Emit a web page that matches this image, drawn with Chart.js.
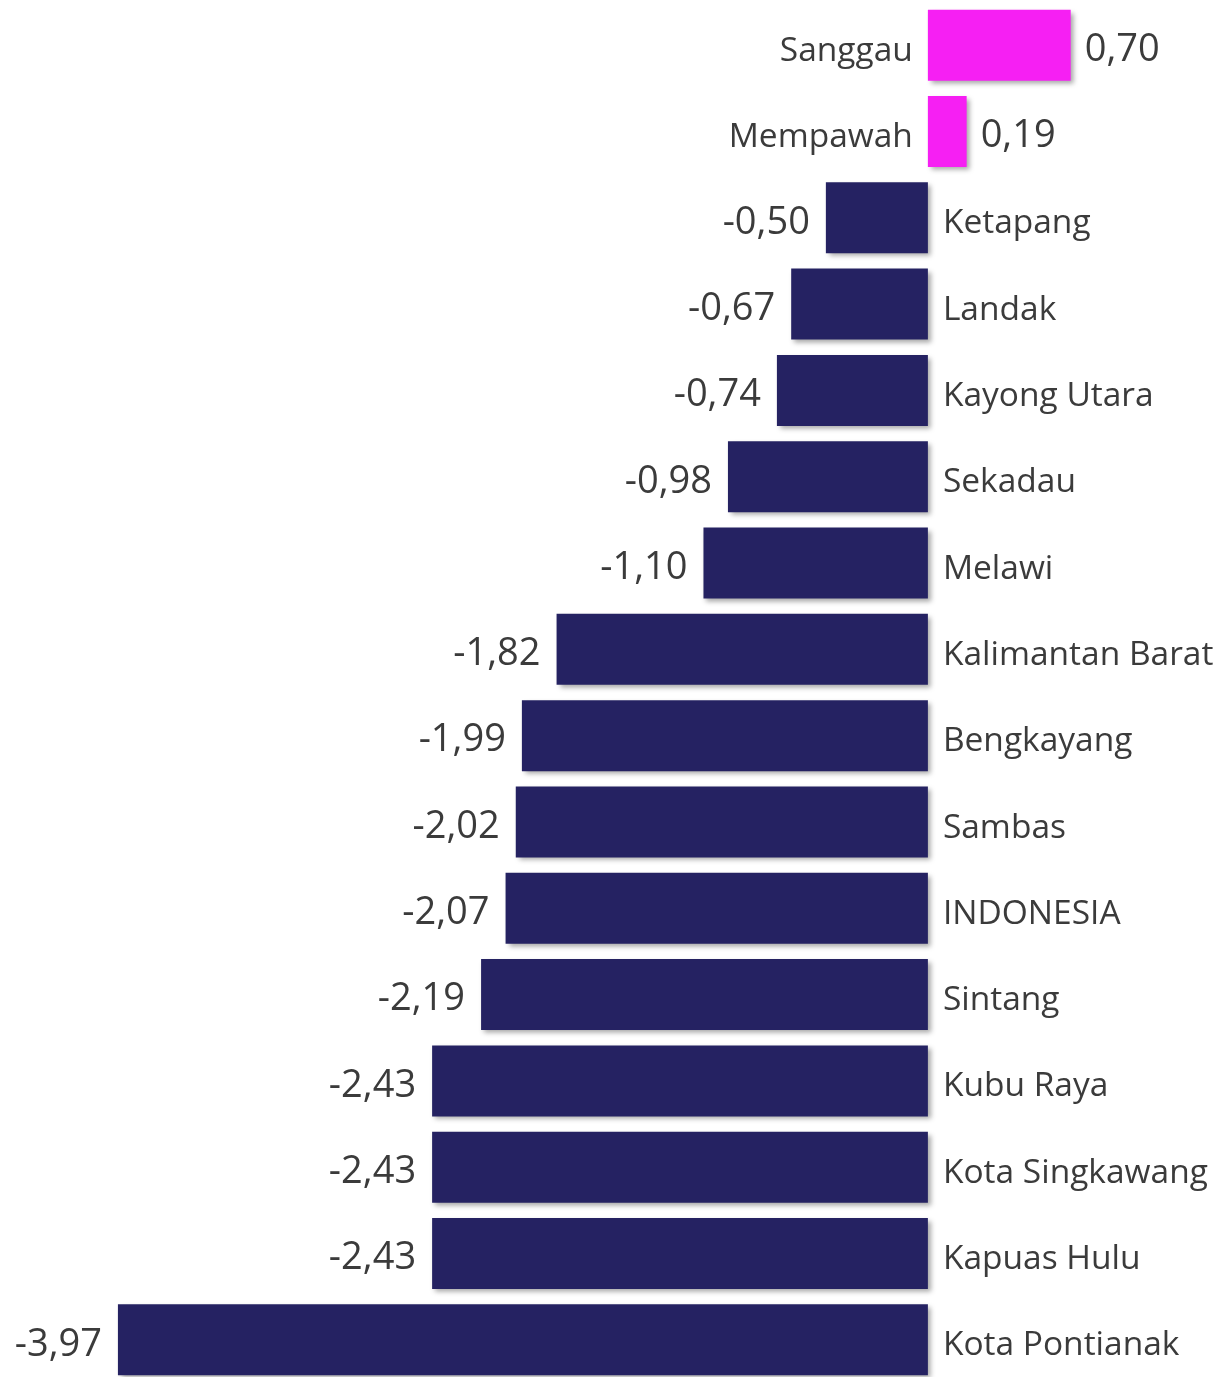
<!DOCTYPE html>
<html>
<head>
<meta charset="utf-8">
<script src="https://cdn.jsdelivr.net/npm/chart.js@4"></script>
<style>
  html, body { margin: 0; padding: 0; background: #fff; overflow: hidden; }
  #wrap { width: 1218px; height: 1383px; }
</style>
</head>
<body>
<div id="wrap"><canvas id="chart"></canvas></div>
<script>
// kategori dan nilai
const regions = ['Sanggau', 'Mempawah', 'Ketapang', 'Landak', 'Kayong Utara', 'Sekadau', 'Melawi',
    'Kalimantan Barat', 'Bengkayang', 'Sambas', 'INDONESIA', 'Sintang', 'Kubu Raya',
    'Kota Singkawang', 'Kapuas Hulu', 'Kota Pontianak'];
const values = [0.70, 0.19, -0.50, -0.67, -0.74, -0.98, -1.10, -1.82, -1.99, -2.02, -2.07, -2.19,
    -2.43, -2.43, -2.43, -3.97];

const posColor = '#F61FF3';
const negColor = '#252262';
const textColor = '#3b3b3b';

const fmt = v => v.toFixed(2).replace('.', ',');

// bayangan batang
const shadowPlugin = {
    id: 'barShadow',
    beforeDatasetsDraw(chart) {
        const ctx = chart.ctx;
        ctx.save();
        ctx.shadowColor = 'rgba(0,0,0,0.35)';
        ctx.shadowBlur = 5;
        ctx.shadowOffsetX = 3;
        ctx.shadowOffsetY = 3;
    },
    afterDatasetsDraw(chart) {
        chart.ctx.restore();
    }
};

// label kategori dan nilai
const labelPlugin = {
    id: 'barLabels',
    afterDraw(chart) {
        const ctx = chart.ctx;
        const meta = chart.getDatasetMeta(0);
        const zero = chart.scales.x.getPixelForValue(0);
        ctx.save();
        ctx.fillStyle = textColor;
        ctx.textBaseline = 'middle';
        meta.data.forEach((bar, i) => {
            const v = values[i];
            ctx.font = '33.5px "Open Sans"';
            const yc = bar.y + 6;
            if (v >= 0) {
                ctx.textAlign = 'right';
                ctx.fillText(regions[i], zero - 15, yc);
            } else {
                ctx.textAlign = 'left';
                ctx.fillText(regions[i], zero + 15, yc);
            }
            ctx.font = '38px "Open Sans"';
            const yv = bar.y + 5;
            if (v >= 0) {
                ctx.textAlign = 'left';
                ctx.fillText(fmt(v), bar.x + 14, yv);
            } else {
                ctx.textAlign = 'right';
                ctx.fillText(fmt(v), bar.x - 16, yv);
            }
        });
        ctx.restore();
    }
};

const ctx = document.getElementById('chart').getContext('2d');
new Chart(ctx, {
    type: 'bar',
    data: {
        labels: regions,
        datasets: [{
            data: values,
            backgroundColor: values.map(v => v >= 0 ? posColor : negColor),
            borderWidth: 0,
            barPercentage: 0.822,
            categoryPercentage: 1.0
        }]
    },
    options: {
        indexAxis: 'y',
        responsive: true,
        maintainAspectRatio: false,
        animation: false,
        layout: { padding: { top: 2, bottom: 0, left: 0, right: 0 } },
        plugins: {
            legend: { display: false },
            tooltip: { enabled: false }
        },
        scales: {
            x: { display: false, min: -4.548, max: 1.422 },
            y: { display: false }
        }
    },
    plugins: [shadowPlugin, labelPlugin]
});
</script>
</body>
</html>
